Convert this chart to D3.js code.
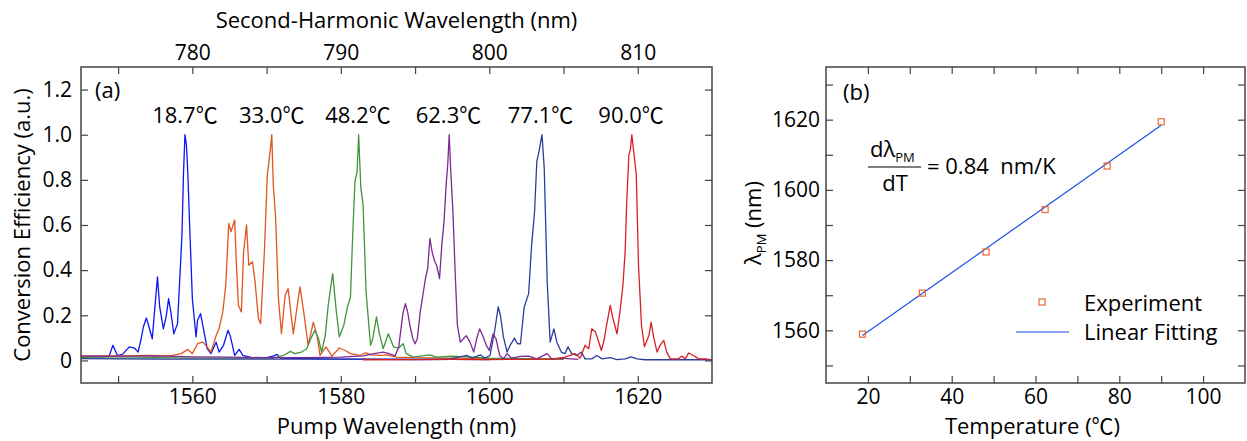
<!DOCTYPE html>
<html>
<head>
<meta charset="utf-8">
<script src="https://cdn.jsdelivr.net/npm/d3@7"></script>
<style>
  body { margin: 0; background: #fff; }
  svg text { font-family: "Open Sans", "Noto Sans CJK SC", sans-serif; fill: #000; }
</style>
</head>
<body>
<svg id="chart" width="1247" height="441"></svg>
<script>
// ---- panel (a): SHG spectra, [pump wavelength nm, normalised efficiency]
var s187 = [[1545.0,0.015],[1546.5,0.018],[1548.0,0.016],[1548.8,0.02],[1549.3,0.067],[1549.9,0.022],[1550.6,0.027],[1551.5,0.06],[1552.2,0.055],[1552.7,0.037],[1553.1,0.096],[1553.4,0.148],[1553.8,0.188],[1554.1,0.156],[1554.6,0.096],[1554.9,0.215],[1555.3,0.37],[1555.6,0.237],[1556.1,0.14],[1556.5,0.2],[1556.8,0.274],[1557.1,0.215],[1557.5,0.118],[1558.0,0.163],[1558.4,0.422],[1558.6,0.556],[1558.8,0.82],[1559.0,1.0],[1559.2,0.956],[1559.4,0.82],[1559.6,0.63],[1560.0,0.274],[1560.5,0.104],[1560.7,0.178],[1561.1,0.207],[1561.5,0.14],[1562.0,0.052],[1562.5,0.03],[1563.2,0.081],[1563.6,0.037],[1564.2,0.067],[1564.8,0.133],[1565.1,0.11],[1565.7,0.022],[1566.3,0.049],[1566.8,0.022],[1568.0,0.012],[1570.0,0.012],[1571.0,0.02],[1571.4,0.027],[1571.9,0.01],[1575.0,0.008],[1580.0,0.006],[1585.0,0.005],[1590.0,0.004],[1595.0,0.005],[1600.0,0.004]];
var s330 = [[1545.0,0.018],[1548.0,0.02],[1551.0,0.02],[1554.0,0.022],[1557.0,0.02],[1558.5,0.03],[1559.4,0.049],[1560.0,0.03],[1560.7,0.074],[1561.4,0.081],[1562.0,0.06],[1562.5,0.037],[1563.2,0.11],[1563.6,0.14],[1564.1,0.215],[1564.5,0.333],[1564.9,0.607],[1565.2,0.57],[1565.7,0.622],[1565.9,0.452],[1566.2,0.244],[1566.6,0.215],[1566.9,0.48],[1567.3,0.6],[1567.6,0.422],[1568.1,0.437],[1568.45,0.348],[1568.9,0.185],[1569.2,0.163],[1569.7,0.48],[1570.1,0.822],[1570.5,0.933],[1570.7,1.0],[1570.9,0.778],[1571.2,0.644],[1571.6,0.274],[1572.0,0.118],[1572.5,0.289],[1572.9,0.318],[1573.6,0.118],[1574.2,0.259],[1574.5,0.326],[1575.0,0.215],[1575.6,0.067],[1576.3,0.17],[1576.8,0.11],[1577.2,0.022],[1578.0,0.06],[1578.8,0.019],[1579.8,0.055],[1580.6,0.044],[1581.3,0.03],[1582.6,0.022],[1583.3,0.034],[1584.2,0.025],[1585.3,0.022],[1586.2,0.025],[1587.5,0.015],[1590.0,0.012],[1595.0,0.01],[1600.0,0.008],[1605.0,0.006],[1610.0,0.005]];
var s482 = [[1545.0,0.012],[1550.0,0.01],[1555.0,0.012],[1560.0,0.01],[1565.0,0.01],[1570.9,0.01],[1572.3,0.022],[1573.2,0.04],[1573.8,0.03],[1574.7,0.037],[1575.4,0.052],[1575.95,0.096],[1576.5,0.133],[1577.0,0.096],[1577.4,0.037],[1577.9,0.11],[1578.3,0.244],[1578.9,0.385],[1579.4,0.215],[1579.8,0.104],[1580.4,0.156],[1580.9,0.237],[1581.3,0.281],[1581.6,0.556],[1581.9,0.793],[1582.2,0.837],[1582.4,1.0],[1582.7,0.763],[1583.0,0.689],[1583.4,0.304],[1584.0,0.067],[1584.3,0.096],[1584.8,0.193],[1585.2,0.118],[1585.7,0.052],[1586.4,0.118],[1587.1,0.06],[1587.8,0.055],[1588.4,0.074],[1588.8,0.03],[1589.8,0.015],[1592.0,0.025],[1592.9,0.015],[1595.0,0.019],[1600.0,0.01],[1605.0,0.008],[1610.0,0.006]];
var s623 = [[1545.0,0.02],[1550.0,0.018],[1555.0,0.02],[1560.0,0.016],[1565.0,0.015],[1570.0,0.012],[1575.0,0.012],[1580.0,0.015],[1583.0,0.02],[1584.5,0.03],[1585.7,0.037],[1586.5,0.03],[1587.3,0.02],[1587.8,0.06],[1588.1,0.14],[1588.4,0.215],[1588.7,0.252],[1589.0,0.215],[1589.3,0.156],[1589.7,0.096],[1590.0,0.074],[1590.3,0.096],[1590.7,0.215],[1591.05,0.289],[1591.4,0.363],[1591.7,0.407],[1592.0,0.541],[1592.3,0.481],[1592.6,0.444],[1592.9,0.422],[1593.3,0.363],[1593.6,0.511],[1593.9,0.615],[1594.2,0.785],[1594.4,0.867],[1594.6,1.0],[1594.8,0.844],[1595.1,0.659],[1595.4,0.393],[1595.7,0.156],[1596.1,0.081],[1596.5,0.096],[1596.9,0.11],[1597.4,0.081],[1597.9,0.037],[1598.3,0.096],[1598.7,0.14],[1599.1,0.11],[1599.6,0.067],[1600.0,0.044],[1600.5,0.118],[1600.9,0.096],[1601.4,0.022],[1601.9,0.007],[1602.4,0.03],[1603.0,0.01],[1604.2,0.018],[1605.3,0.019],[1606.4,0.007],[1607.8,0.03],[1608.4,0.007],[1609.6,0.01],[1612.0,0.005]];
var s771 = [[1545.0,0.008],[1555.0,0.006],[1565.0,0.006],[1575.0,0.006],[1585.0,0.006],[1594.7,0.007],[1597.0,0.022],[1597.7,0.01],[1598.8,0.025],[1599.4,0.01],[1600.1,0.022],[1600.7,0.126],[1601.2,0.237],[1601.5,0.2],[1601.9,0.104],[1602.4,0.037],[1602.8,0.067],[1603.4,0.099],[1603.8,0.074],[1604.2,0.074],[1604.7,0.237],[1605.3,0.296],[1605.7,0.511],[1606.1,0.659],[1606.4,0.881],[1606.7,0.926],[1607.1,1.0],[1607.4,0.852],[1607.8,0.348],[1608.2,0.081],[1608.7,0.14],[1609.1,0.081],[1609.7,0.037],[1610.2,0.03],[1610.6,0.06],[1611.1,0.03],[1611.8,0.022],[1612.4,0.037],[1612.9,0.007],[1613.8,0.007],[1614.5,0.022],[1615.2,0.007],[1616.3,0.012],[1617.2,0.004],[1618.3,0.007],[1619.1,0.016],[1619.9,0.007],[1621.0,0.003],[1625.0,0.003],[1630.0,0.003]];
var s900 = [[1583.0,0.003],[1590.0,0.004],[1595.0,0.005],[1600.0,0.004],[1605.0,0.005],[1608.9,0.007],[1610.2,0.015],[1611.6,0.03],[1612.25,0.01],[1612.9,0.067],[1613.4,0.052],[1613.8,0.14],[1614.3,0.126],[1614.6,0.096],[1615.1,0.044],[1615.5,0.096],[1615.8,0.156],[1616.3,0.244],[1616.6,0.193],[1616.9,0.156],[1617.2,0.118],[1617.6,0.215],[1618.0,0.333],[1618.3,0.481],[1618.5,0.689],[1618.8,0.911],[1619.0,0.933],[1619.2,1.0],[1619.5,0.911],[1619.8,0.822],[1620.1,0.422],[1620.5,0.156],[1620.9,0.06],[1621.5,0.11],[1621.8,0.17],[1622.1,0.11],[1622.6,0.037],[1623.0,0.067],[1623.5,0.089],[1623.9,0.037],[1624.4,0.007],[1625.5,0.007],[1625.9,0.019],[1626.4,0.007],[1626.85,0.033],[1627.5,0.022],[1628.2,0.007],[1629.1,0.007],[1629.8,0.003]];

var peakLabels = ["18.7℃", "33.0℃", "48.2℃", "62.3℃", "77.1℃", "90.0℃"];
var peakWl = [1559.0, 1570.7, 1582.3, 1594.5, 1606.9, 1619.1];
var pumpTicks = [1550, 1560, 1570, 1580, 1590, 1600, 1610, 1620];
var shTicks = [775, 780, 785, 790, 795, 800, 805, 810];
var effTicks = [0, 0.2, 0.4, 0.6, 0.8, 1.0, 1.2];

// ---- panel (b): phase-matching wavelength vs temperature
var tempC = [18.7, 33.0, 48.2, 62.3, 77.1, 90.0];
var lambdaPM = [1558.9, 1570.6, 1582.3, 1594.4, 1606.8, 1619.4];
var fitT = [18.7, 90.0];
var fitLambda = [1558.5, 1618.4];
var tempTicks = [20, 30, 40, 50, 60, 70, 80, 90, 100];
var lamTicks = [1550, 1560, 1570, 1580, 1590, 1600, 1610, 1620, 1630];

var svg = d3.select("#chart");
var frameColor = "#444";
var fs = "22px", tickFs = "21px";

function styleAxis(g) {
  g.select(".domain").remove();
  g.selectAll(".tick line").attr("stroke", frameColor).attr("stroke-width", 1.2);
  g.selectAll(".tick text").style("font-size", tickFs).attr("fill", "#000");
}

function frame(g, w, h) {
  g.append("rect").attr("x", 0).attr("y", 0).attr("width", w).attr("height", h)
    .attr("fill", "none").attr("stroke", frameColor).attr("stroke-width", 1.5);
}

// ================= panel (a) =================
var aL = 81, aT = 67, aW = 631, aH = 316;
var ga = svg.append("g").attr("transform", "translate(" + aL + "," + aT + ")");
var xa = d3.scaleLinear().domain([1545, 1630]).range([0, aW]);
var xsh = d3.scaleLinear().domain([1545 / 2, 1630 / 2]).range([0, aW]);
var ya = d3.scaleLinear().domain([-0.1, 1.3]).range([aH, 0]);

var each20 = function(d) { return d % 20 === 0 ? d : ""; };
var each10 = function(d) { return d % 10 === 0 ? d : ""; };

ga.append("g").attr("transform", "translate(0," + aH + ")")
  .call(d3.axisBottom(xa).tickValues(pumpTicks).tickSize(-7).tickPadding(6).tickFormat(each20))
  .call(styleAxis);
ga.append("g")
  .call(d3.axisTop(xsh).tickValues(shTicks).tickSize(-7).tickPadding(7).tickFormat(each10))
  .call(styleAxis);
ga.append("g")
  .call(d3.axisLeft(ya).tickValues(effTicks).tickSize(-7).tickPadding(9)
    .tickFormat(function(d) { return d === 0 ? "0" : d3.format(".1f")(d); }))
  .call(styleAxis);
ga.append("g").attr("transform", "translate(" + aW + ",0)")
  .call(d3.axisRight(ya).tickValues(effTicks).tickSize(-7).tickFormat(""))
  .call(styleAxis);

var clip = ga.append("clipPath").attr("id", "clipA");
clip.append("rect").attr("width", aW).attr("height", aH);

var line = d3.line().x(function(d) { return xa(d[0]); }).y(function(d) { return ya(d[1]); });
var spectra = [
  { data: s187, color: "#0b17f2" },
  { data: s330, color: "#e0561e" },
  { data: s482, color: "#3f9340" },
  { data: s771, color: "#2b3e9c" },
  { data: s623, color: "#7d2a93" },
  { data: s900, color: "#d61f27" }
];
ga.append("g").attr("clip-path", "url(#clipA)")
  .selectAll("path").data(spectra).enter().append("path")
  .attr("d", function(d) { return line(d.data); })
  .attr("fill", "none")
  .attr("stroke", function(d) { return d.color; })
  .attr("stroke-width", 1.3)
  .attr("stroke-linejoin", "round");

ga.selectAll(".plabel").data(peakLabels).enter().append("text")
  .attr("class", "plabel")
  .attr("x", function(d, i) { return xa(peakWl[i]); })
  .attr("y", 56)
  .attr("text-anchor", "middle")
  .style("font-size", fs)
  .text(function(d) { return d; });

ga.append("text").attr("x", 14).attr("y", 31).style("font-size", fs).text("(a)");
frame(ga, aW, aH);

svg.append("text").attr("x", aL + aW / 2).attr("y", 28).attr("text-anchor", "middle")
  .style("font-size", fs).text("Second-Harmonic Wavelength (nm)");
svg.append("text").attr("x", aL + aW / 2).attr("y", 434).attr("text-anchor", "middle")
  .style("font-size", fs).text("Pump Wavelength (nm)");
svg.append("text").attr("transform", "translate(30," + (aT + 158) + ") rotate(-90)")
  .attr("text-anchor", "middle").style("font-size", fs).text("Conversion Efficiency (a.u.)");

// ================= panel (b) =================
var bL = 826, bT = 67, bW = 419, bH = 316;
var gb = svg.append("g").attr("transform", "translate(" + bL + "," + bT + ")");
var xb = d3.scaleLinear().domain([10, 110]).range([0, bW]);
var yb = d3.scaleLinear().domain([1545, 1635]).range([bH, 0]);

gb.append("g").attr("transform", "translate(0," + bH + ")")
  .call(d3.axisBottom(xb).tickValues(tempTicks).tickSize(-7).tickPadding(6).tickFormat(each20))
  .call(styleAxis);
gb.append("g")
  .call(d3.axisTop(xb).tickValues(tempTicks).tickSize(-7).tickFormat(""))
  .call(styleAxis);
gb.append("g")
  .call(d3.axisLeft(yb).tickValues(lamTicks).tickSize(-7).tickPadding(6).tickFormat(each20))
  .call(styleAxis);
gb.append("g").attr("transform", "translate(" + bW + ",0)")
  .call(d3.axisRight(yb).tickValues(lamTicks).tickSize(-7).tickFormat(""))
  .call(styleAxis);

var fitColor = "#1f4fe6", expColor = "#ea6a34";
var fitPts = fitT.map(function(t, i) { return [t, fitLambda[i]]; });
gb.append("path")
  .attr("d", d3.line().x(function(d) { return xb(d[0]); }).y(function(d) { return yb(d[1]); })(fitPts))
  .attr("fill", "none").attr("stroke", fitColor).attr("stroke-width", 1.2);

gb.selectAll(".pt").data(tempC).enter().append("rect")
  .attr("class", "pt")
  .attr("x", function(d) { return xb(d) - 3; })
  .attr("y", function(d, i) { return yb(lambdaPM[i]) - 3; })
  .attr("width", 6).attr("height", 6)
  .attr("fill", "none").attr("stroke", expColor).attr("stroke-width", 1.2);

gb.append("text").attr("x", 17).attr("y", 33).style("font-size", fs).text("(b)");

// slope annotation
var eq = gb.append("g");
var num = eq.append("text").attr("x", 44).attr("y", 90).style("font-size", fs);
num.append("tspan").text("dλ");
num.append("tspan").attr("dy", 5).style("font-size", "13px").text("PM");
eq.append("line").attr("x1", 42).attr("x2", 95).attr("y1", 100).attr("y2", 100)
  .attr("stroke", "#000").attr("stroke-width", 1.2);
eq.append("text").attr("x", 69).attr("y", 124).attr("text-anchor", "middle")
  .style("font-size", fs).text("dT");
eq.append("text").attr("x", 101).attr("y", 107).style("font-size", fs)
  .attr("xml:space", "preserve").text("= 0.84  nm/K");

// legend
var lg = gb.append("g");
lg.append("rect").attr("x", 216 - 3).attr("y", 235 - 3).attr("width", 6).attr("height", 6)
  .attr("fill", "none").attr("stroke", expColor).attr("stroke-width", 1.2);
lg.append("text").attr("x", 258).attr("y", 244).style("font-size", fs).text("Experiment");
lg.append("line").attr("x1", 190).attr("x2", 243).attr("y1", 265).attr("y2", 265)
  .attr("stroke", fitColor).attr("stroke-width", 1.2);
lg.append("text").attr("x", 258).attr("y", 273).style("font-size", fs).text("Linear Fitting");

frame(gb, bW, bH);

svg.append("text").attr("x", bL + bW / 2 - 3).attr("y", 434).attr("text-anchor", "middle")
  .style("font-size", fs).text("Temperature (℃)");
var yl = svg.append("text").attr("transform", "translate(761," + (bT + 156) + ") rotate(-90)")
  .attr("text-anchor", "middle").style("font-size", fs);
yl.append("tspan").text("λ");
yl.append("tspan").attr("dy", 5).style("font-size", "13px").text("PM");
yl.append("tspan").attr("dy", -5).text(" (nm)");
</script>
</body>
</html>
